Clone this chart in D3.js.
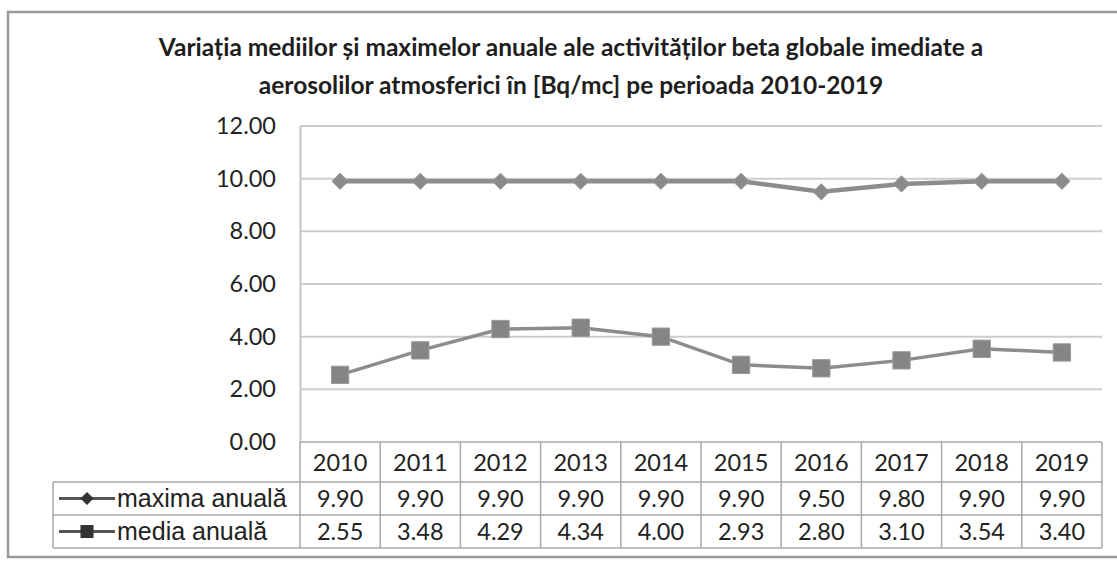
<!DOCTYPE html>
<html>
<head>
<meta charset="utf-8">
<script src="https://cdn.jsdelivr.net/npm/d3@7"></script>
<style>
  html, body { margin: 0; padding: 0; background: #fff; }
  svg { display: block; }
</style>
</head>
<body>
<svg id="chart" width="1117" height="566"></svg>
<script>
// Annual beta activity of atmospheric aerosols, 2010-2019 [Bq/mc]
const years = ["2010", "2011", "2012", "2013", "2014", "2015", "2016", "2017", "2018", "2019"];
const maximaAnuala = [9.90, 9.90, 9.90, 9.90, 9.90, 9.90, 9.50, 9.80, 9.90, 9.90];
const mediaAnuala = [2.55, 3.48, 4.29, 4.34, 4.00, 2.93, 2.80, 3.10, 3.54, 3.40];
const yTicks = [0, 2, 4, 6, 8, 10, 12];
const seriesNames = ["maxima anuală", "media anuală"];
const titleLines = [
  "Variația mediilor și maximelor anuale ale activităților beta globale imediate a",
  "aerosolilor atmosferici în [Bq/mc] pe perioada 2010-2019"
];

const series = [
  { name: seriesNames[0], values: maximaAnuala, marker: "diamond" },
  { name: seriesNames[1], values: mediaAnuala, marker: "square" }
];

const svg = d3.select("#chart");
const numFont = "Lato, 'Open Sans', sans-serif";
const legendFont = "'Liberation Sans', Arial, sans-serif";

const plot = { left: 300, right: 1102, top: 126, bottom: 442 };
const headerH = 40;
const rowH = 33;

const x = d3.scaleBand().domain(years).range([plot.left, plot.right]);
const y = d3.scaleLinear().domain([0, 12]).range([plot.bottom, plot.top]);

const markerType = m => m === "diamond" ? d3.symbolDiamond2 : d3.symbolSquare;

// outer chart frame
svg.append("path")
  .attr("d", "M1117,12 H8 V557 H1117")
  .attr("fill", "none").attr("stroke", "#9a9a9a").attr("stroke-width", 2.5);

// title
svg.append("text")
  .attr("x", 571).attr("y", 56)
  .attr("text-anchor", "middle")
  .attr("font-family", numFont).attr("font-weight", "bold")
  .attr("font-size", 24.5).attr("fill", "#1e1e1e")
  .selectAll("tspan").data(titleLines).join("tspan")
  .attr("x", 571).attr("dy", (d, i) => i === 0 ? 0 : 38)
  .text(d => d);

// gridlines
svg.append("g").selectAll("line").data(yTicks.filter(t => t > 0)).join("line")
  .attr("x1", plot.left).attr("x2", plot.right)
  .attr("y1", d => y(d)).attr("y2", d => y(d))
  .attr("stroke", "#cdcdcd").attr("stroke-width", 2);

// y axis
const yAxis = d3.axisLeft(y).tickValues(yTicks).tickFormat(d3.format(".2f")).tickSize(0).tickPadding(24);
const gy = svg.append("g").attr("transform", `translate(${plot.left},0)`).call(yAxis);
gy.select(".domain").attr("stroke", "#c4c4c4").attr("stroke-width", 2);
gy.selectAll("text")
  .attr("font-family", numFont).attr("font-size", 23.5).attr("fill", "#222");

// series lines and markers
const line = d3.line()
  .x((d, i) => x(years[i]) + x.bandwidth() / 2)
  .y(d => y(d));

const lineColor = "#8c8c8c";
series.forEach(s => {
  svg.append("path")
    .datum(s.values)
    .attr("d", line)
    .attr("fill", "none")
    .attr("stroke", lineColor)
    .attr("stroke-width", s.marker === "diamond" ? 4.5 : 3.5);
  const sym = d3.symbol()
    .type(markerType(s.marker))
    .size(s.marker === "diamond" ? 170 : 300);
  svg.append("g").selectAll("path").data(s.values).join("path")
    .attr("transform", (d, i) => `translate(${x(years[i]) + x.bandwidth() / 2},${y(d)})`)
    .attr("d", sym)
    .attr("fill", s.marker === "diamond" ? "#8a8a8a" : "#858585")
    .attr("stroke", "#9a9a9a").attr("stroke-width", 1);
});

// data table below the plot
const table = svg.append("g");
const gridColor = "#a8a8a8";
const rowTop = [plot.bottom, plot.bottom + headerH, plot.bottom + headerH + rowH];
const tableBottom = plot.bottom + headerH + 2 * rowH;
const legendLeft = 53;

// horizontal rules
table.append("line").attr("x1", plot.left).attr("x2", plot.right)
  .attr("y1", rowTop[0]).attr("y2", rowTop[0]);
[rowTop[1], rowTop[2], tableBottom].forEach(yy => {
  table.append("line").attr("x1", legendLeft).attr("x2", plot.right)
    .attr("y1", yy).attr("y2", yy);
});
// vertical rules
table.append("line").attr("x1", legendLeft).attr("x2", legendLeft)
  .attr("y1", rowTop[1]).attr("y2", tableBottom);
years.forEach(yr => {
  table.append("line").attr("x1", x(yr)).attr("x2", x(yr))
    .attr("y1", rowTop[0]).attr("y2", tableBottom);
});
table.append("line").attr("x1", plot.right).attr("x2", plot.right)
  .attr("y1", rowTop[0]).attr("y2", tableBottom);
table.selectAll("line").attr("stroke", gridColor).attr("stroke-width", 1.5);

// header: years
table.append("g").selectAll("text").data(years).join("text")
  .attr("x", d => x(d) + x.bandwidth() / 2)
  .attr("y", rowTop[0] + headerH / 2 + 1)
  .attr("dy", "0.35em")
  .attr("text-anchor", "middle")
  .attr("font-family", numFont).attr("font-size", 23.5).attr("fill", "#222")
  .text(d => d);

// value rows with legend keys
series.forEach((s, si) => {
  const top = rowTop[si + 1];
  const cy = top + rowH / 2;
  table.append("g").selectAll("text").data(s.values).join("text")
    .attr("x", (d, i) => x(years[i]) + x.bandwidth() / 2)
    .attr("y", cy)
    .attr("dy", "0.35em")
    .attr("text-anchor", "middle")
    .attr("font-family", numFont).attr("font-size", 23.5).attr("fill", "#222")
    .text(d => d3.format(".2f")(d));

  // legend key
  table.append("line")
    .attr("x1", legendLeft + 6).attr("x2", legendLeft + 62)
    .attr("y1", cy).attr("y2", cy)
    .attr("stroke", "#555").attr("stroke-width", 3);
  table.append("path")
    .attr("transform", `translate(${legendLeft + 34},${cy})`)
    .attr("d", d3.symbol().type(markerType(s.marker))
      .size(s.marker === "diamond" ? 110 : 170))
    .attr("fill", "#333");
  table.append("text")
    .attr("x", legendLeft + 64).attr("y", cy)
    .attr("dy", "0.35em")
    .attr("font-family", legendFont).attr("font-size", 25).attr("fill", "#222")
    .text(s.name);
});
</script>
</body>
</html>
